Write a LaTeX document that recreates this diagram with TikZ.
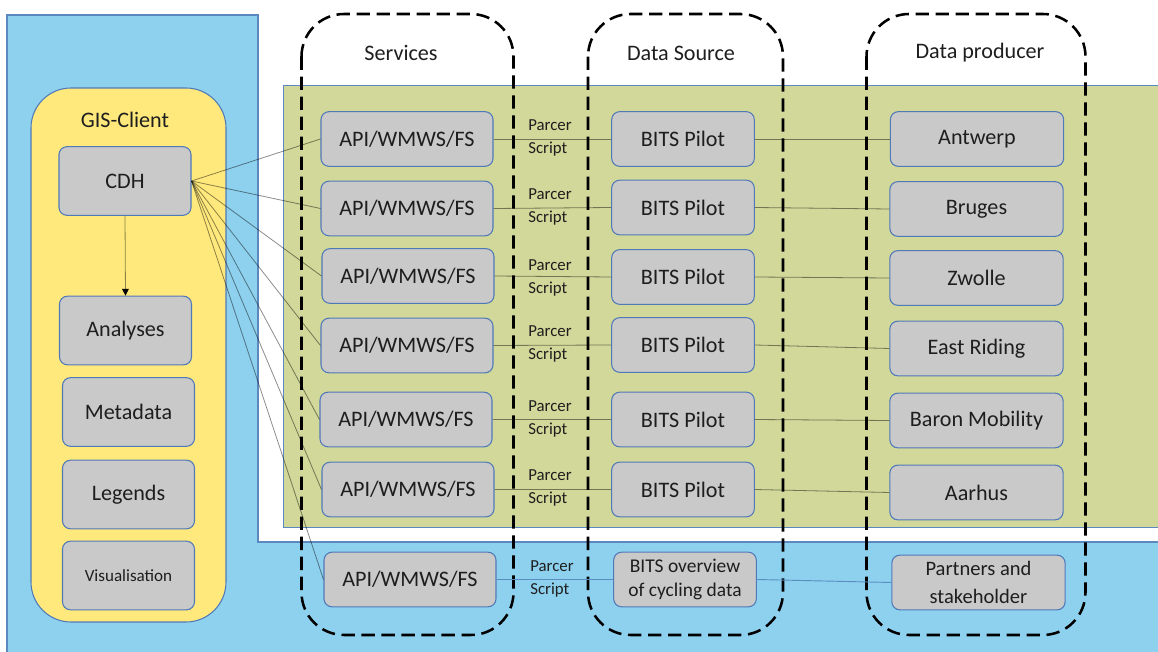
\documentclass[tikz,border=0pt]{standalone}
\usepackage{fontspec}
\setmainfont{Carlito}
\usetikzlibrary{arrows.meta}
\definecolor{bgblue}{HTML}{8ED1EE}
\definecolor{edgeblue}{HTML}{5C88C0}
\definecolor{ygold}{HTML}{FFE97C}
\definecolor{olivebg}{HTML}{D1D899}
\definecolor{boxgray}{HTML}{C9C9C9}
\definecolor{boxedge}{HTML}{5079B8}
\definecolor{txt}{HTML}{1E1E1E}
\definecolor{rowblue}{HTML}{5B8DC2}
\definecolor{arrowline}{HTML}{8C8446}
\begin{document}
\begin{tikzpicture}[x=0.75pt,y=-0.75pt,
  font=\fontsize{16.6}{20}\selectfont,
  box/.style={draw=boxedge, fill=boxgray, rounded corners=6pt, line width=0.8pt, text=txt, inner sep=1pt},
  api/.style={box, minimum width=129pt, minimum height=41pt},
  bits/.style={box, minimum width=107pt, minimum height=41pt},
  prod/.style={box, minimum width=130pt, minimum height=41pt},
  gis/.style={box, minimum width=99pt, minimum height=51.5pt},
  col/.style={draw=black, dash pattern=on 10pt off 5pt, line width=1.9pt, rounded corners=32pt},
  conn/.style={draw=black, draw opacity=0.45, line width=0.6pt},
  bconn/.style={draw=rowblue, line width=0.7pt},
  parcer/.style={font=\fontsize{12.6}{17.2}\selectfont, align=left, text=txt, inner sep=0pt},
  head/.style={text=txt, inner sep=0pt}]
\useasboundingbox (0,0) rectangle (1158,652);
\fill[white] (0,0) rectangle (1158,652);
% blue background (L shape)
\fill[bgblue] (7,653) -- (7,15) -- (258,15) -- (258,542) -- (1159,542) -- (1159,653) -- cycle;
\draw[edgeblue, line width=0.8pt] (7,653) -- (7,15) -- (258,15) -- (258,542) -- (1159,542);
% green area
\filldraw[fill=olivebg, draw=edgeblue, line width=0.7pt] (283,85) rectangle (1160,527);
% yellow GIS client
\filldraw[fill=ygold, draw=boxedge, line width=0.8pt, rounded corners=30pt] (31,88) rectangle (226,622);
\node[head] (gisc) at (125,120) {GIS-Client};
% dashed columns
\draw[col] (301.5,14) rectangle (513.5,635);
\draw[col] (588,14) rectangle (783,635);
\draw[col] (866.5,14) rectangle (1085.5,635);
\node[head] (hs) at (401,53) {Services};
\node[head] (hd) at (681,53) {Data Source};
\node[head] (hp) at (980,53) {Data producer};
% GIS boxes
\node[gis] (cdh) at (125,181) {CDH};
\node[gis] (ana) at (125.5,330.5) {Analyses};
\node[gis] (meta) at (128.5,412) {Metadata};
\node[gis] (leg) at (128.5,494.5) {Legends};
\node[gis, font=\fontsize{12.8}{15}\selectfont] (vis) at (128.5,575.5) {Visualisation};
% service boxes
\node[api] (a1) at (407,139) {API/WMWS/FS};
\node[api] (a2) at (407,208.5) {API/WMWS/FS};
\node[api] (a3) at (408,276) {API/WMWS/FS};
\node[api] (a4) at (407,345.5) {API/WMWS/FS};
\node[api] (a5) at (406,419.5) {API/WMWS/FS};
\node[api] (a6) at (408,489.5) {API/WMWS/FS};
\node[api] (a7) at (410,579.5) {API/WMWS/FS};
% data source boxes
\node[bits] (b1) at (683,139) {BITS Pilot};
\node[bits] (b2) at (683,207.5) {BITS Pilot};
\node[bits] (b3) at (683,277) {BITS Pilot};
\node[bits] (b4) at (683,345) {BITS Pilot};
\node[bits] (b5) at (683,419.5) {BITS Pilot};
\node[bits] (b6) at (683,489.5) {BITS Pilot};
\node[bits, align=center, font=\fontsize{14.6}{17.3}\selectfont] (b7) at (685,579.5) {BITS overview\\of cycling data};
% producers
\node[prod] (p1) at (977,139) {Antwerp};
\node[prod] (p2) at (976.5,209) {Bruges};
\node[prod] (p3) at (976.5,278) {Zwolle};
\node[prod] (p4) at (976.5,348.5) {East Riding};
\node[prod] (p5) at (976.5,420.5) {Baron Mobility};
\node[prod] (p6) at (976.5,492.5) {Aarhus};
\node[prod, align=center, font=\fontsize{15.4}{21}\selectfont] (p7) at (978.5,582.5) {Partners and\\stakeholder};
% parcer labels
\node[parcer] (s1) at (550,137.5) {Parcer\\Script};
\node[parcer] (s2) at (550,206.5) {Parcer\\Script};
\node[parcer] (s3) at (550,277.5) {Parcer\\Script};
\node[parcer] (s4) at (550,343.5) {Parcer\\Script};
\node[parcer] (s5) at (550,419) {Parcer\\Script};
\node[parcer] (s6) at (550,487.5) {Parcer\\Script};
\node[parcer] (s7) at (552,578.5) {Parcer\\Script};
% connectors CDH -> services
\foreach \i in {1,...,7} {
  \draw[conn] (cdh.east) -- (a\i.west);
}
% arrow CDH -> Analyses
\draw[draw=arrowline, line width=0.6pt, -{Triangle[length=5pt,width=5pt,color=black]}] (cdh.south) -- (ana.north);
% horizontal connectors
\foreach \i in {1,...,6} {
  \draw[conn] (a\i.east) -- (b\i.west);
  \draw[conn] (b\i.east) -- (p\i.west);
}
\draw[bconn] (a7.east) -- (b7.west);
\draw[bconn] (b7.east) -- (p7.west);
\end{tikzpicture}
\end{document}
